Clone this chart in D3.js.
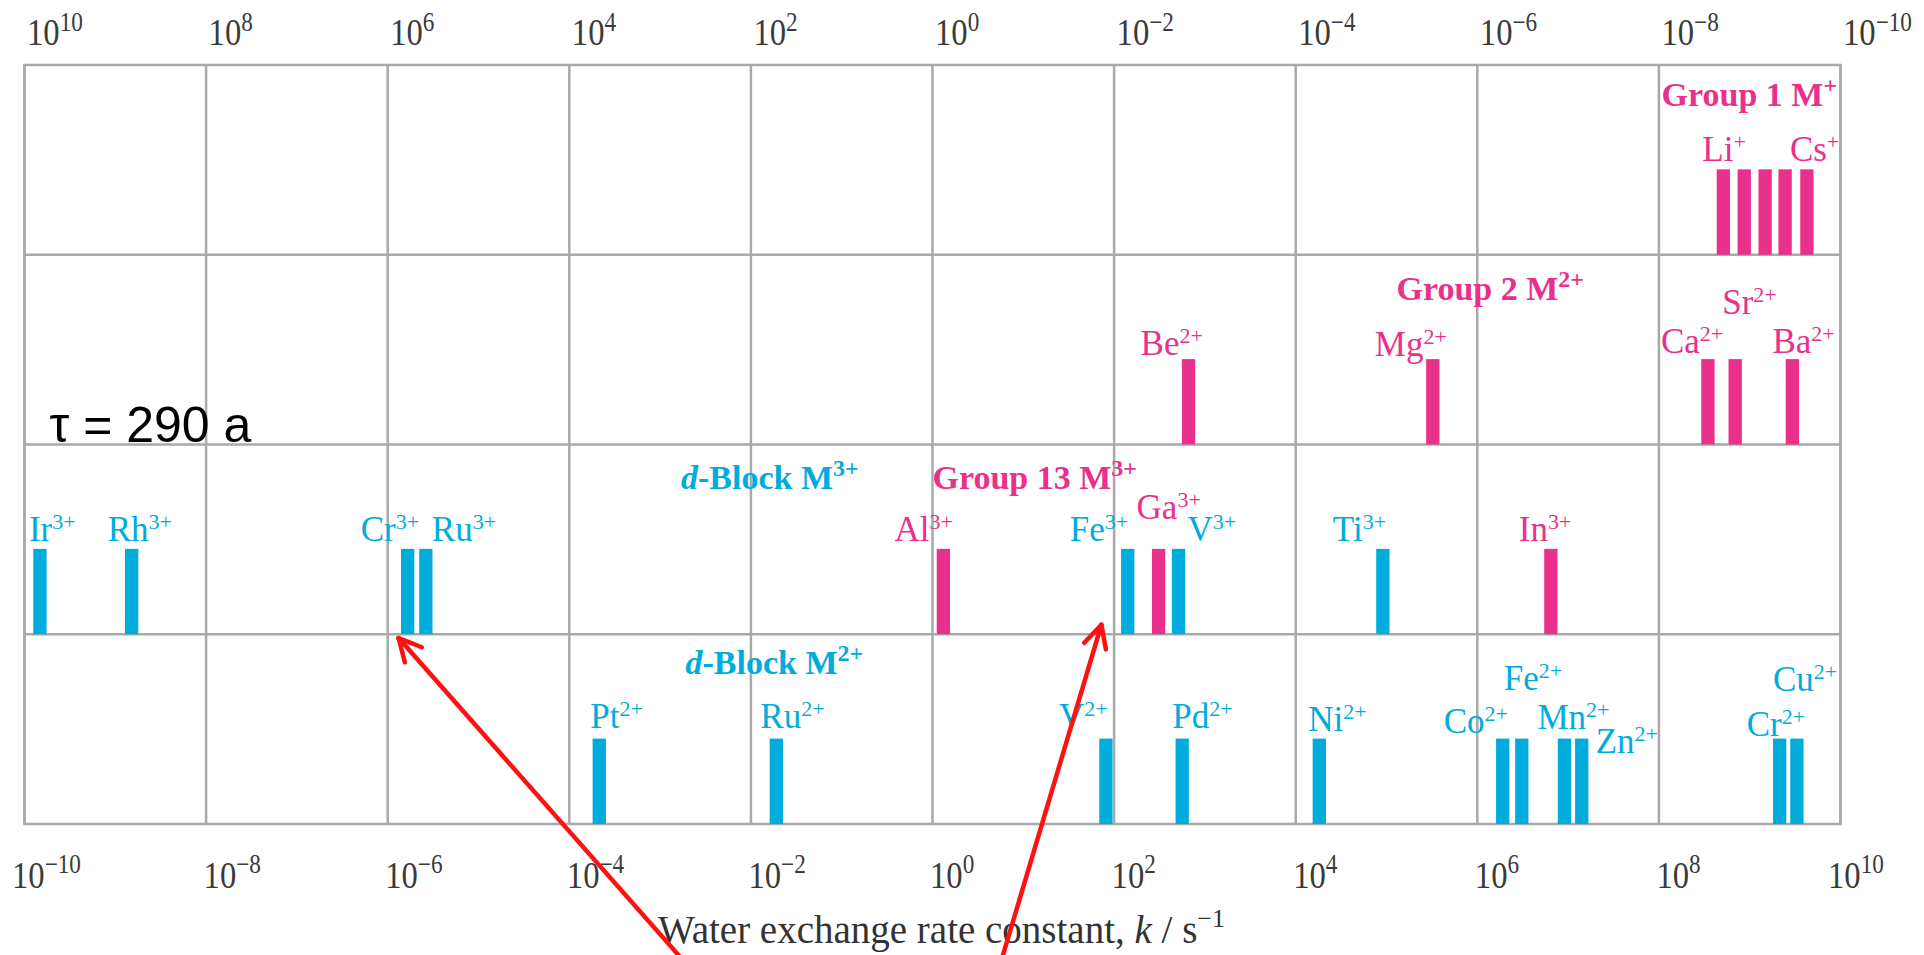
<!DOCTYPE html>
<html lang="en">
<head>
  <meta charset="utf-8">
  <script src="https://d3js.org/d3.v7.min.js" charset="utf-8"></script>
  <title>Water exchange rate constants</title>
  <style>
    body { margin: 0; background: #fff; }
    .grid line, .grid rect { stroke: #a7a9ac; stroke-width: 2.5; fill: none; }
    .tick-label { font-family: "Liberation Serif", "Times New Roman", serif; font-size: 38px; fill: #3a3a3a; }
    .ion { font-family: "Liberation Serif", "Times New Roman", serif; font-size: 35px; }
    .group-title { font-family: "Liberation Serif", "Times New Roman", serif; font-size: 34px; font-weight: bold; }
  </style>
</head>
<body>
<svg width="1924" height="955"></svg>
<script>
// ---- data (log10 of k / s^-1) ----
var rowNames = ["group1", "group2", "m3", "m2"];
var rowCharge = {group1: "+", group2: "2+", m3: "3+", m2: "2+"};

var group1Ions = ["Li", "Na", "K", "Rb", "Cs"];
var group1LogK = [8.71, 8.94, 9.17, 9.39, 9.63];

var group2Ions = ["Be", "Mg", "Ca", "Sr", "Ba"];
var group2LogK = [2.82, 5.51, 8.54, 8.84, 9.47];

var m3Ions = ["Ir", "Rh", "Cr", "Ru", "Al", "Fe", "Ga", "V", "Ti", "In"];
var m3LogK = [-9.83, -8.82, -5.78, -5.58, 0.12, 2.15, 2.49, 2.71, 4.96, 6.81];
var group13Ions = ["Al", "Ga", "In"];

var m2Ions = ["Pt", "Ru", "V", "Pd", "Ni", "Co", "Fe", "Mn", "Zn", "Cr", "Cu"];
var m2LogK = [-3.67, -1.72, 1.91, 2.75, 4.26, 6.28, 6.49, 6.96, 7.15, 9.33, 9.52];

var kTicks = [-10, -8, -6, -4, -2, 0, 2, 4, 6, 8, 10];

// ---- layout (label nudges: dx from bar centre to text start, dy from bar top) ----
var labelPos = {
  "group1:Li": [-21, -8], "group1:Cs": [-17, -8],
  "group2:Be": [-48, -4], "group2:Mg": [-58, -3], "group2:Ca": [-47, -6], "group2:Sr": [-13, -45], "group2:Ba": [-20, -6],
  "m3:Ir": [-11, -8], "m3:Rh": [-24, -8], "m3:Cr": [-47, -8], "m3:Ru": [6, -8], "m3:Al": [-49, -8],
  "m3:Fe": [-58, -8], "m3:Ga": [-22, -30], "m3:V": [9, -8], "m3:Ti": [-50, -8], "m3:In": [-32, -8],
  "m2:Pt": [-9, -11], "m2:Ru": [-16, -11], "m2:V": [-47, -11], "m2:Pd": [-10, -11], "m2:Ni": [-11, -8],
  "m2:Co": [-59, -6], "m2:Fe": [-18, -49], "m2:Mn": [-27, -10], "m2:Zn": [14, 14], "m2:Cr": [-33, -3], "m2:Cu": [-24, -48]
};

var groupTitles = [
  {row: "group1", italic: "", base: "Group 1 M", sup: "+", at: 8.03, dy: 41, fam: "pink"},
  {row: "group2", italic: "", base: "Group 2 M", sup: "2+", at: 5.11, dy: 45, fam: "pink"},
  {row: "m3", italic: "d", base: "-Block M", sup: "3+", at: -2.77, dy: 44, fam: "cyan"},
  {row: "m3", italic: "", base: "Group 13 M", sup: "3+", at: 0.0, dy: 44, fam: "pink"},
  {row: "m2", italic: "d", base: "-Block M", sup: "2+", at: -2.72, dy: 40, fam: "cyan"}
];

var arrows = [
  {tip: [-5.88, 3.02], tail: [-2.78, 4.7]},
  {tip: [1.86, 2.95], tail: [0.77, 4.7]}
];

var colours = {pink: "#e9308a", cyan: "#00acdc"};

var svg = d3.select("svg"),
  margin = {top: 65, right: 83.5, bottom: 131, left: 24.5},
  width = +svg.attr("width") - margin.left - margin.right,
  height = +svg.attr("height") - margin.top - margin.bottom,
  g = svg.append("g").attr("transform", "translate(" + margin.left + "," + margin.top + ")");

var x = d3.scaleLinear().domain([-10, 10]).range([0, width]);
var y = d3.scaleBand().domain(rowNames).range([0, height]).padding(0);
var yRow = d3.scaleLinear().domain([0, rowNames.length]).range([0, height]);

var barW = 13.3, barH = y.bandwidth() * 0.45;

// build the bar list from the arrays
var bars = [];
function addRow(row, ions, logk, famOf) {
  ions.forEach(function(ion, i) {
    bars.push({row: row, ion: ion, logk: logk[i], fam: famOf(ion)});
  });
}
addRow("group1", group1Ions, group1LogK, function() { return "pink"; });
addRow("group2", group2Ions, group2LogK, function() { return "pink"; });
addRow("m3", m3Ions, m3LogK, function(d) { return group13Ions.indexOf(d) >= 0 ? "pink" : "cyan"; });
addRow("m2", m2Ions, m2LogK, function() { return "cyan"; });

// grid
var grid = g.append("g").attr("class", "grid");
grid.selectAll("line.v")
  .data(kTicks)
  .enter().append("line")
    .attr("class", "v")
    .attr("x1", function(d) { return x(d); })
    .attr("x2", function(d) { return x(d); })
    .attr("y1", 0)
    .attr("y2", height);
grid.selectAll("line.h")
  .data(rowNames.slice(1))
  .enter().append("line")
    .attr("class", "h")
    .attr("x1", 0)
    .attr("x2", width)
    .attr("y1", function(d) { return y(d); })
    .attr("y2", function(d) { return y(d); });
grid.append("rect").attr("width", width).attr("height", height);

// bars
g.selectAll(".bar")
  .data(bars)
  .enter().append("rect")
    .attr("class", "bar")
    .attr("x", function(d) { return x(d.logk) - barW / 2; })
    .attr("y", function(d) { return y(d.row) + y.bandwidth() - barH; })
    .attr("width", barW)
    .attr("height", barH)
    .attr("fill", function(d) { return colours[d.fam]; });

// ion labels
var labels = g.selectAll(".ion")
  .data(bars.filter(function(d) { return labelPos[d.row + ":" + d.ion]; }))
  .enter().append("text")
    .attr("class", "ion")
    .attr("fill", function(d) { return colours[d.fam]; })
    .attr("x", function(d) { return x(d.logk) + labelPos[d.row + ":" + d.ion][0]; })
    .attr("y", function(d) { return y(d.row) + y.bandwidth() - barH + labelPos[d.row + ":" + d.ion][1]; });
labels.append("tspan").text(function(d) { return d.ion; });
labels.append("tspan")
  .attr("dy", -12)
  .style("font-size", "22px")
  .text(function(d) { return rowCharge[d.row]; });

// group titles
var titles = g.selectAll(".group-title")
  .data(groupTitles)
  .enter().append("text")
    .attr("class", "group-title")
    .attr("fill", function(d) { return colours[d.fam]; })
    .attr("x", function(d) { return x(d.at); })
    .attr("y", function(d) { return y(d.row) + d.dy; });
titles.append("tspan").style("font-style", "italic").text(function(d) { return d.italic; });
titles.append("tspan").text(function(d) { return d.base; });
titles.append("tspan")
  .attr("dy", -13)
  .style("font-size", "24px")
  .text(function(d) { return d.sup; });

// axes: top shows lifetime (1/k), bottom shows k
function expLabel(v) { return v < 0 ? "\u2212" + (-v) : "" + v; }
var squeeze = 0.86;

var topAxis = g.append("g")
  .call(d3.axisTop(x).tickValues(kTicks).tickSize(0).tickFormat(""));
topAxis.select(".domain").remove();
topAxis.selectAll(".tick").each(function(v) {
  var t = d3.select(this).append("text")
    .attr("class", "tick-label")
    .attr("text-anchor", "start")
    .attr("transform", "translate(2,-20) scale(" + squeeze + ",1)");
  t.append("tspan").text("10");
  t.append("tspan").attr("dy", -14).style("font-size", "27px").text(expLabel(-v));
});

var bottomAxis = g.append("g")
  .attr("transform", "translate(0," + height + ")")
  .call(d3.axisBottom(x).tickValues(kTicks).tickSize(0).tickFormat(""));
bottomAxis.select(".domain").remove();
bottomAxis.selectAll(".tick").each(function(v, i) {
  var dx = (i === 0 || i === kTicks.length - 1) ? -13 : -3;
  var t = d3.select(this).append("text")
    .attr("class", "tick-label")
    .attr("text-anchor", "start")
    .attr("transform", "translate(" + dx + ",64) scale(" + squeeze + ",1)");
  t.append("tspan").text("10");
  t.append("tspan").attr("dy", -15).style("font-size", "27px").text(expLabel(v));
});

// axis title
var axTitle = g.append("text")
  .attr("x", width / 2 + 9)
  .attr("y", height + 119)
  .attr("text-anchor", "middle")
  .attr("fill", "#333")
  .style("font-family", "'Liberation Serif', 'Times New Roman', serif")
  .style("font-size", "39px");
axTitle.append("tspan").text("Water exchange rate constant, ");
axTitle.append("tspan").style("font-style", "italic").text("k");
axTitle.append("tspan").text(" / s");
axTitle.append("tspan").attr("dy", -16).style("font-size", "26px").text("\u22121");

// lifetime note
g.append("text")
  .attr("x", 25)
  .attr("y", yRow(2) - 3)
  .attr("fill", "#000")
  .style("font-family", "'Liberation Sans', Arial, sans-serif")
  .style("font-size", "50px")
  .text("\u03c4 = 290 a");

// red arrows
var arrowG = g.append("g")
  .attr("stroke", "#ff1111")
  .attr("stroke-width", 4.5)
  .attr("stroke-linecap", "round")
  .attr("fill", "none");
arrows.forEach(function(a) {
  var tx = x(a.tip[0]), ty = yRow(a.tip[1]),
      sx = x(a.tail[0]), sy = yRow(a.tail[1]),
      ang = Math.atan2(sy - ty, sx - tx),
      head = 25, spread = 27 * Math.PI / 180;
  arrowG.append("line").attr("x1", sx).attr("y1", sy).attr("x2", tx).attr("y2", ty);
  [-spread, spread].forEach(function(s) {
    arrowG.append("line")
      .attr("x1", tx).attr("y1", ty)
      .attr("x2", tx + head * Math.cos(ang + s))
      .attr("y2", ty + head * Math.sin(ang + s));
  });
});
</script>
</body>
</html>
